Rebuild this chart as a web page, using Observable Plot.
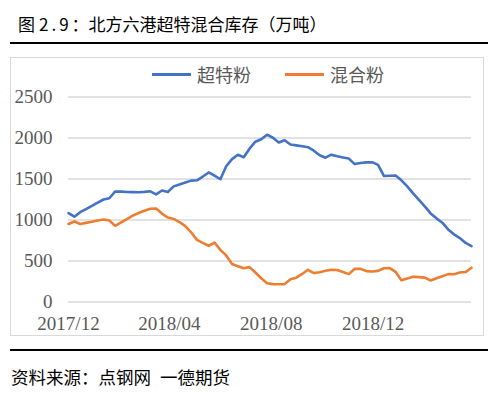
<!DOCTYPE html>
<html>
<head>
<meta charset="utf-8">
<script src="https://cdn.jsdelivr.net/npm/d3@7"></script>
<script src="https://cdn.jsdelivr.net/npm/@observablehq/plot@0.6"></script>
<style>
  html, body { margin: 0; padding: 0; background: #fff; }
  #wrap { position: relative; width: 500px; height: 395px; overflow: hidden; font-family: "Noto Sans CJK SC", "Noto Sans", sans-serif; }
  .abs { position: absolute; }
  #title { left: 18px; top: 15px; font-size: 17px; line-height: 17px; color: #000; white-space: nowrap; }
  #title .num { letter-spacing: 3px; margin-left: 4px; }
  #caption { left: 11px; top: 368px; font-size: 17.5px; line-height: 17px; color: #000; white-space: nowrap; }
  #caption .gap { display: inline-block; width: 9px; }
  .rule { left: 10px; width: 478px; height: 2px; background: #000; }
  #box { left: 10px; top: 57px; width: 472px; height: 277px; border: 1px solid #d9d9d9; }
  .leg { top: 64px; font-size: 18px; line-height: 20px; color: #595959; white-space: nowrap; display: flex; align-items: center; }
  .sw { display: inline-block; width: 39px; height: 3px; margin-right: 6px; }
  #chart { left: 11px; top: 58px; }
  #chart svg text { font-family: "Liberation Serif", serif; }
</style>
</head>
<body>
<div id="wrap">
  <div id="title" class="abs"></div>
  <div class="abs rule" style="top:42px"></div>
  <div id="box" class="abs"></div>
  <div id="legend"></div>
  <div id="chart" class="abs"></div>
  <div class="abs rule" style="top:349px"></div>
  <div id="caption" class="abs"></div>
</div>
<script>
const titleParts = ["图", "2.9", "：北方六港超特混合库存（万吨）"];
const captionParts = ["资料来源：点钢网", "一德期货"];

const seriesNames = ["超特粉", "混合粉"];
const seriesColors = ["#4472C4", "#ED7D31"];

// weekly observations, starting 2017-12-01
const startDate = "2017-12-01";
const endDate = "2019-03-29";

const superSpecial = [
  1085, 1040, 1095, 1133, 1172, 1211, 1250, 1265, 1348, 1346,
  1342, 1340, 1338, 1343, 1350, 1313, 1360, 1342, 1410, 1433,
  1456, 1480, 1484, 1530, 1580, 1540, 1497, 1655, 1742, 1795,
  1765, 1870, 1955, 1985, 2040, 2003, 1945, 1972, 1920, 1910,
  1900, 1888, 1845, 1790, 1760, 1797, 1778, 1762, 1749, 1682,
  1695, 1703, 1705, 1672, 1537, 1540, 1543, 1484, 1410, 1325,
  1245, 1167, 1080, 1020, 967, 885, 825, 780, 720, 682
];
const mixed = [
  951, 982, 952, 965, 978, 993, 1007, 993, 928, 970,
  1012, 1053, 1085, 1113, 1137, 1140, 1078, 1030, 1013, 975,
  925, 850, 758, 722, 686, 725, 636, 568, 464, 437,
  411, 425, 360, 290, 228, 218, 217, 218, 278, 297,
  342, 393, 353, 363, 380, 393, 390, 365, 340, 406,
  404, 377, 371, 380, 412, 414, 368, 265, 286, 307,
  303, 297, 262, 290, 315, 340, 338, 360, 365, 418
];

const yTicks = [0, 500, 1000, 1500, 2000, 2500];
const xTickLabels = ["2017/12", "2018/04", "2018/08", "2018/12"];

const parse = d3.utcParse("%Y/%m");
const xTicks = xTickLabels.map(parse);
const start = d3.utcParse("%Y-%m-%d")(startDate);
const end = d3.utcParse("%Y-%m-%d")(endDate);

const rows = [];
[superSpecial, mixed].forEach((vals, s) => {
  vals.forEach((v, i) => rows.push({date: d3.utcDay.offset(start, 7 * i), value: v, series: seriesNames[s]}));
});

document.getElementById("title").innerHTML =
  `${titleParts[0]}<span class="num">${titleParts[1]}</span>${titleParts[2]}`;
document.getElementById("caption").innerHTML =
  `${captionParts[0]}<span class="gap"></span>${captionParts[1]}`;

const legendX = [152, 285];
const legend = document.getElementById("legend");
seriesNames.forEach((n, i) => {
  const d = document.createElement("div");
  d.className = "abs leg";
  d.style.left = legendX[i] + "px";
  d.innerHTML = `<span class="sw" style="background:${seriesColors[i]}"></span><span>${n}</span>`;
  legend.appendChild(d);
});

const tickFont = "Liberation Serif";
const chart = Plot.plot({
  width: 471,
  height: 276,
  marginLeft: 57,
  marginRight: 11,
  marginTop: 38.5,
  marginBottom: 32.5,
  style: {fontFamily: tickFont, fontSize: "19px", color: "#595959", background: "transparent"},
  x: {type: "utc", domain: [start, end], label: null},
  y: {domain: [0, 2500], label: null},
  color: {domain: seriesNames, range: seriesColors},
  marks: [
    Plot.gridY(yTicks, {stroke: "#d9d9d9", strokeOpacity: 1, strokeWidth: 1.3}),
    Plot.axisY({ticks: yTicks, tickSize: 0, tickPadding: 16, tickFormat: d3.format("d"), label: null, fill: "#595959", fontFamily: tickFont}),
    Plot.axisX({ticks: xTicks, tickSize: 0, tickPadding: 14, tickFormat: d3.utcFormat("%Y/%m"), label: null, fill: "#595959", fontFamily: tickFont}),
    Plot.line(rows, {x: "date", y: "value", z: "series", stroke: "series", strokeWidth: 2.6, curve: "linear"})
  ]
});
document.getElementById("chart").appendChild(chart);
</script>
</body>
</html>
